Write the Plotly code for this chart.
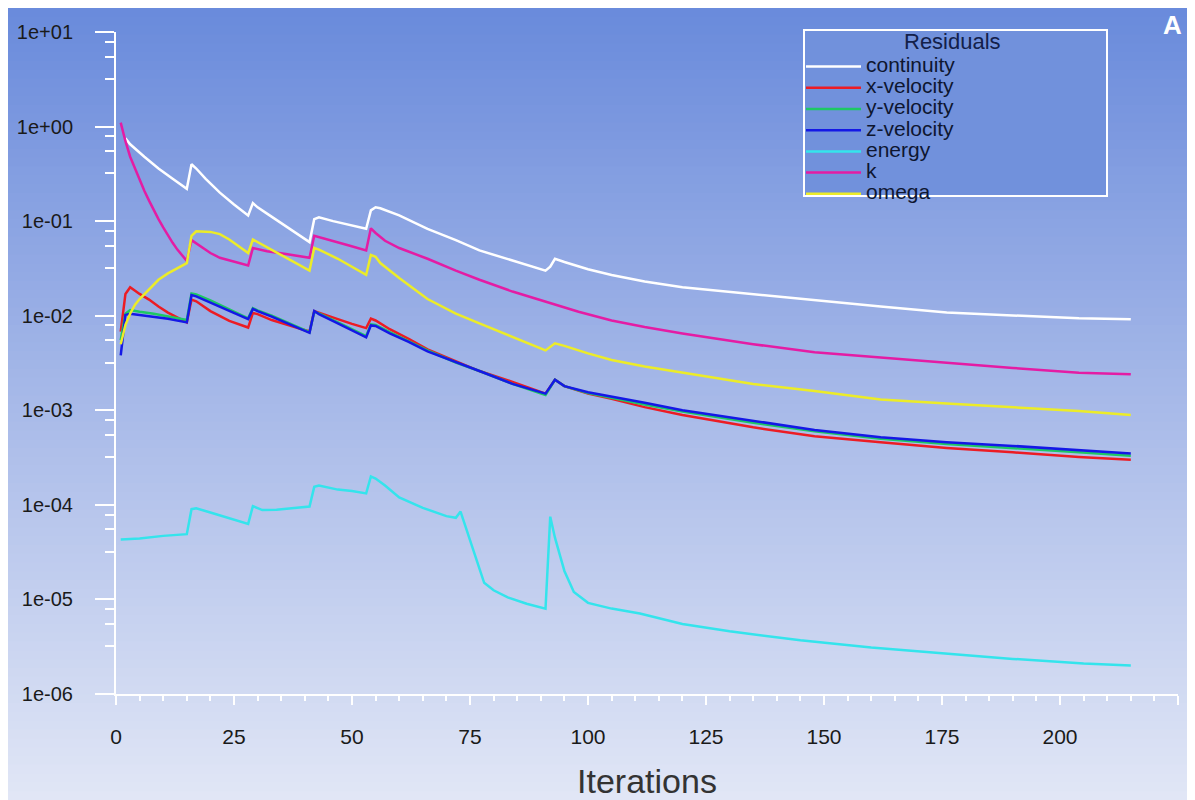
import plotly.graph_objects as go

# residual histories (iteration, value)
cont_it = [2, 3, 6, 9, 12, 15, 16, 17, 19, 22, 25, 28, 29, 30, 32, 35, 38, 41, 42, 43, 46, 50, 53, 54, 55,
           56, 60, 66, 72, 77, 84, 91, 92, 93, 95, 100, 105, 112, 120, 135, 148, 162, 176, 190, 204, 215]
cont_val = [0.75, 0.65, 0.48, 0.36, 0.28, 0.22, 0.40, 0.36, 0.28, 0.20, 0.15, 0.115, 0.155, 0.14, 0.12, 0.095,
            0.075, 0.06, 0.105, 0.11, 0.10, 0.09, 0.083, 0.13, 0.14, 0.137, 0.115, 0.083, 0.063, 0.049, 0.038,
            0.030, 0.033, 0.040, 0.037, 0.031, 0.027, 0.023, 0.020, 0.0168, 0.0146, 0.0125, 0.0108, 0.0101,
            0.0094, 0.0092]

xvel_it = [1, 2, 3, 5, 7, 9, 11, 13, 15, 16, 17, 20, 24, 28, 29, 30, 33, 37, 41, 42, 43, 47, 50, 53, 54, 55,
           58, 62, 66, 72, 77, 84, 91, 93, 95, 100, 105, 112, 120, 135, 148, 162, 176, 190, 204, 215]
xvel_val = [0.0068, 0.017, 0.020, 0.017, 0.0148, 0.0125, 0.0108, 0.0095, 0.0085, 0.0148, 0.0142, 0.0112,
            0.0088, 0.0075, 0.0107, 0.0104, 0.0090, 0.0078, 0.0068, 0.0112, 0.0108, 0.0092, 0.0082, 0.0074,
            0.0093, 0.0089, 0.0072, 0.0057, 0.0044, 0.0033, 0.0026, 0.0020, 0.0015, 0.0021, 0.0018, 0.0015,
            0.00132, 0.00108, 0.00089, 0.00066, 0.00053, 0.00046, 0.00040, 0.00036, 0.00032, 0.00030]

yvel_it = [1, 2, 3, 5, 8, 11, 15, 16, 17, 20, 24, 28, 29, 30, 33, 37, 41, 42, 43, 47, 50, 53, 54, 55, 58, 62,
           66, 72, 77, 84, 91, 93, 95, 100, 105, 112, 120, 135, 148, 162, 176, 190, 204, 215]
yvel_val = [0.0055, 0.0105, 0.0115, 0.011, 0.0105, 0.0098, 0.009, 0.0172, 0.0168, 0.0145, 0.0117, 0.0094,
            0.012, 0.0114, 0.0100, 0.0082, 0.0067, 0.0110, 0.0106, 0.0085, 0.0072, 0.0061, 0.0081, 0.0080,
            0.0067, 0.0054, 0.0043, 0.0032, 0.0026, 0.0019, 0.00145, 0.0021, 0.0018, 0.00152, 0.00135,
            0.00115, 0.00097, 0.00074, 0.00060, 0.00050, 0.00044, 0.00040, 0.00036, 0.00033]

zvel_it = [1, 2, 3, 5, 8, 11, 15, 16, 17, 20, 24, 28, 29, 30, 33, 37, 41, 42, 43, 47, 50, 53, 54, 55, 58, 62,
           66, 72, 77, 84, 91, 93, 95, 100, 105, 112, 120, 135, 148, 162, 176, 190, 204, 215]
zvel_val = [0.0038, 0.0102, 0.0105, 0.0102, 0.0098, 0.0093, 0.0085, 0.0165, 0.016, 0.0138, 0.0112, 0.0092,
            0.0118, 0.0112, 0.0098, 0.0081, 0.0066, 0.0112, 0.0104, 0.0083, 0.0070, 0.0059, 0.0079, 0.0078,
            0.0065, 0.0053, 0.0042, 0.0032, 0.0026, 0.0019, 0.0015, 0.0021, 0.0018, 0.00155, 0.0014,
            0.0012, 0.0010, 0.00077, 0.00062, 0.00052, 0.00046, 0.00042, 0.00038, 0.00035]

energy_it = [1, 5, 10, 15, 16, 17, 20, 24, 28, 29, 31, 34, 38, 41, 42, 43, 47, 50, 53, 54, 55, 57, 60, 65, 70,
             72, 73, 78, 80, 83, 87, 91, 92, 93, 94, 95, 97, 100, 105, 111, 120, 130, 145, 160, 175, 190,
             205, 215]
energy_val = [4.3e-5, 4.4e-5, 4.7e-5, 4.9e-5, 9.0e-5, 9.2e-5, 8.3e-5, 7.2e-5, 6.3e-5, 9.7e-5, 8.8e-5, 8.9e-5,
              9.2e-5, 9.6e-5, 1.55e-4, 1.6e-4, 1.45e-4, 1.4e-4, 1.32e-4, 2.0e-4, 1.9e-4, 1.6e-4, 1.2e-4,
              9.3e-5, 7.6e-5, 7.3e-5, 8.5e-5, 1.5e-5, 1.25e-5, 1.05e-5, 9.0e-6, 8.0e-6, 7.5e-5, 4.5e-5,
              3.0e-5, 2.0e-5, 1.2e-5, 9.2e-6, 8.0e-6, 7.1e-6, 5.5e-6, 4.6e-6, 3.7e-6, 3.1e-6, 2.7e-6,
              2.35e-6, 2.1e-6, 2.0e-6]

k_it = [1, 2, 3, 4, 5, 6, 7, 8, 9, 10, 11, 12, 13, 14, 15, 16, 18, 20, 22, 25, 28, 29, 32, 36, 41, 42, 45, 49,
        53, 54, 55, 57, 60, 66, 72, 77, 84, 91, 98, 105, 112, 120, 135, 148, 162, 176, 190, 204, 215]
k_val = [1.1, 0.7, 0.48, 0.36, 0.27, 0.21, 0.165, 0.13, 0.105, 0.086, 0.07, 0.059, 0.05, 0.043, 0.038, 0.063,
         0.054, 0.046, 0.041, 0.037, 0.034, 0.052, 0.048, 0.045, 0.041, 0.070, 0.064, 0.056, 0.049, 0.084,
         0.075, 0.062, 0.052, 0.040, 0.030, 0.024, 0.018, 0.014, 0.011, 0.0089, 0.0076, 0.0065, 0.0050,
         0.0041, 0.0036, 0.0032, 0.0028, 0.0025, 0.0024]

omega_it = [1, 2, 3, 4, 5, 7, 9, 11, 13, 15, 16, 17, 20, 22, 24, 26, 28, 29, 30, 33, 37, 41, 42, 43, 47, 50,
            53, 54, 55, 56, 60, 66, 72, 77, 84, 91, 93, 95, 100, 105, 112, 120, 135, 148, 162, 176, 190,
            204, 215]
omega_val = [0.005, 0.008, 0.0105, 0.013, 0.015, 0.019, 0.024, 0.028, 0.032, 0.036, 0.070, 0.078, 0.077, 0.073,
             0.064, 0.054, 0.046, 0.064, 0.060, 0.050, 0.039, 0.030, 0.052, 0.050, 0.040, 0.033, 0.027,
             0.044, 0.042, 0.036, 0.025, 0.015, 0.0105, 0.0083, 0.006, 0.0043, 0.0051, 0.0048, 0.0040,
             0.0034, 0.0029, 0.0025, 0.0019, 0.0016, 0.0013, 0.00118, 0.00107, 0.00098, 0.00089]

series = [
    ('continuity', cont_it, cont_val, '#ffffff'),
    ('x-velocity', xvel_it, xvel_val, '#ec1c24'),
    ('y-velocity', yvel_it, yvel_val, '#1ec864'),
    ('z-velocity', zvel_it, zvel_val, '#1418e6'),
    ('energy', energy_it, energy_val, '#34e4ec'),
    ('k', k_it, k_val, '#e41ca4'),
    ('omega', omega_it, omega_val, '#ecec28'),
]

y_ticks = [1e-6, 1e-5, 1e-4, 1e-3, 1e-2, 1e-1, 1e0, 1e1]
y_ticktext = ['1e-06', '1e-05', '1e-04', '1e-03', '1e-02', '1e-01', '1e+00', '1e+01']
x_ticks = [0, 25, 50, 75, 100, 125, 150, 175, 200, 225]

fig = go.Figure()
for name, it, val, col in series:
    # bigger glyphs than the row pitch, so entries crowd together as in Fluent
    label = f'<span style="font-size:21px">{name}</span>'
    fig.add_trace(go.Scatter(x=it, y=val, mode='lines', name=label,
                             line=dict(color=col, width=2.5)))

# plot area in pixels (paper starts under the 8px page margin)
W, H = 1187, 792
L, R, T, B = 108, 17, 24, 106
pw, ph = W - L - R, H - T - B


def px_x(px):
    # page pixel -> paper fraction
    return (px - 8 - L) / pw


def px_y(py):
    return (H - B - (py - 8)) / ph


# vertical background gradient, like the Fluent graphics window
top_c = (106, 139, 220)
mid_c = (168, 186, 233)
bot_c = (225, 230, 246)
n = 90
shapes = []
for i in range(n):
    f = i / (n - 1)
    if f < 0.5:
        g = f / 0.5
        c = [int(top_c[j] + (mid_c[j] - top_c[j]) * g) for j in range(3)]
    else:
        g = (f - 0.5) / 0.5
        c = [int(mid_c[j] + (bot_c[j] - mid_c[j]) * g) for j in range(3)]
    py0 = i * H / n
    py1 = (i + 1) * H / n + 1
    shapes.append(dict(type='rect', xref='paper', yref='paper', layer='below',
                       x0=-L / pw, x1=1 + R / pw,
                       y0=(H - B - py1) / ph, y1=(H - B - py0) / ph,
                       line=dict(width=0), fillcolor=f'rgb({c[0]},{c[1]},{c[2]})'))

# legend frame
shapes.append(dict(type='rect', xref='paper', yref='paper', layer='below',
                   x0=px_x(804), x1=px_x(1107), y0=px_y(196), y1=px_y(30),
                   line=dict(color='white', width=2), fillcolor='#7191dc'))

minor_vals = []
for d in range(-6, 1):
    for m in [3.2, 5.5, 7.9]:
        minor_vals.append(m * 10 ** d)

fig.update_layout(
    width=W, height=H,
    margin=dict(l=L, r=R, t=T, b=B),
    paper_bgcolor='white',
    plot_bgcolor='rgba(0,0,0,0)',
    shapes=shapes,
    font=dict(family='Arial, Liberation Sans, sans-serif', color='#1a1a1a'),
    legend=dict(x=px_x(801), y=px_y(51), xanchor='left', yanchor='top',
                bgcolor='rgba(0,0,0,0)', borderwidth=0,
                font=dict(size=14, color='#0e1630'),
                itemwidth=55, tracegroupgap=0),
    annotations=[
        dict(text='Residuals', xref='paper', yref='paper', x=px_x(952), y=px_y(41),
             xanchor='center', yanchor='middle', showarrow=False,
             font=dict(size=22, color='#13204a')),
        dict(text='<b>A</b>', xref='paper', yref='paper', x=px_x(1172), y=px_y(8),
             xanchor='center', yanchor='top', showarrow=False,
             font=dict(size=26, color='white')),
    ],
)

fig.update_xaxes(range=[0, 225], tickvals=x_ticks, ticks='outside', ticklen=9, tickwidth=2,
                 tickcolor='white', showline=True, linecolor='white', linewidth=2,
                 showgrid=False, zeroline=False, ticklabelstandoff=14, automargin=False,
                 tickfont=dict(size=21, color='#1a1a1a'),
                 minor=dict(dtick=5, ticks='outside', ticklen=5, tickwidth=1.5, tickcolor='white'),
                 title=dict(text='Iterations', font=dict(size=34, color='#333333'), standoff=22))

fig.update_yaxes(type='log', range=[-6, 1], tickvals=y_ticks, ticktext=y_ticktext,
                 ticks='outside', ticklen=19, tickwidth=2, tickcolor='white',
                 showline=True, linecolor='white', linewidth=2, showgrid=False, zeroline=False,
                 ticklabelstandoff=18, automargin=False, tickfont=dict(size=20, color='#1a1a1a'),
                 minor=dict(tickvals=minor_vals, ticks='outside', ticklen=9, tickwidth=1.5,
                            tickcolor='white', showgrid=False))

fig.write_html("out.html")
